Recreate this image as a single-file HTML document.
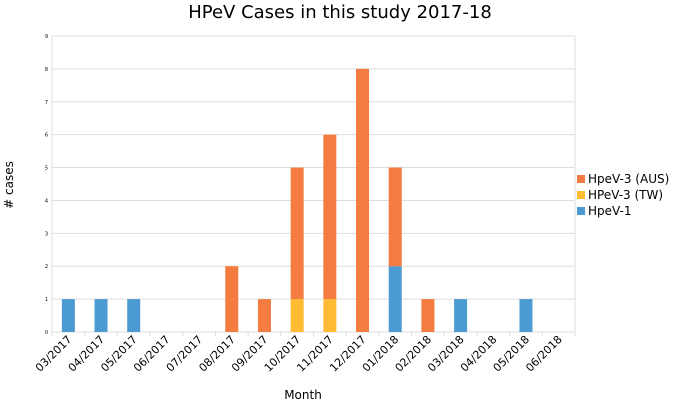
<!DOCTYPE html>
<html><head><meta charset="utf-8"><style>
body{margin:0;background:#fff;}
svg text{font-family:"DejaVu Sans","Liberation Sans",sans-serif;fill:#000;}
</style></head><body>
<svg width="685" height="401" viewBox="0 0 685 401">
<text x="340" y="18" text-anchor="middle" font-size="18">HPeV Cases in this study 2017-18</text>
<g id="grid"></g>
<g id="bars"></g>
<g id="xlabels"></g>
<text transform="translate(13,185) rotate(-90)" text-anchor="middle" font-size="12"># cases</text>
<text x="303" y="399" text-anchor="middle" font-size="12">Month</text>
<g>
<rect x="577" y="175" width="8" height="8" fill="#f47c40"/>
<text x="588" y="183" font-size="12">HpeV-3 (AUS)</text>
<rect x="577" y="191" width="8" height="8" fill="#ffbb33"/>
<text x="588" y="199" font-size="12">HPeV-3 (TW)</text>
<rect x="577" y="207" width="8" height="8" fill="#4c9ad2"/>
<text x="588" y="215" font-size="12">HpeV-1</text>
</g>
</svg>
<script>
const categories=["03/2017","04/2017","05/2017","06/2017","07/2017","08/2017","09/2017","10/2017","11/2017","12/2017","01/2018","02/2018","03/2018","04/2018","05/2018","06/2018"];
const hpev1=[1,1,1,0,0,0,0,0,0,0,2,0,1,0,1,0];
const hpev3tw=[0,0,0,0,0,0,0,1,1,0,0,0,0,0,0,0];
const hpev3aus=[0,0,0,0,0,2,1,4,5,8,3,1,0,0,0,0];
const yTicks=[0,1,2,3,4,5,6,7,8,9];
const NS="http://www.w3.org/2000/svg";
const X0=52,X1=575,Y0=332,Y1=36,YMAX=9;
const bw=(X1-X0)/categories.length;
const y=v=>Y0-(Y0-Y1)*v/YMAX;
const xc=i=>X0+bw*(i+0.5);
const grid=document.getElementById('grid'),bars=document.getElementById('bars'),xl=document.getElementById('xlabels');
function mk(t,a){const e=document.createElementNS(NS,t);for(const k in a)e.setAttribute(k,a[k]);return e;}
yTicks.forEach(v=>{
 const l=mk('line',{x1:X0,x2:X1,y1:y(v),y2:y(v),stroke:'#dddddd','stroke-width':1});
 
 
 grid.appendChild(l);
 const t=mk('text',{x:X0-4,y:y(v)+2,'text-anchor':'end','font-size':5});
 
 
 t.textContent=v;grid.appendChild(t);
});
const vl=mk('line',{x1:X0,x2:X0,y1:Y1,y2:Y0,stroke:'#dddddd'});


grid.appendChild(vl);
const rl=mk('line',{x1:X1,x2:X1,y1:Y1,y2:Y0,stroke:'#dddddd'});


grid.appendChild(rl);
for(let i=0;i<=categories.length;i++){
 const tk=mk('line',{x1:X0+bw*i,x2:X0+bw*i,y1:Y0,y2:Y0+4,stroke:'#dddddd'});
 
 
 grid.appendChild(tk);
}
const series=[[hpev1,'#4c9ad2','hpev1'],[hpev3tw,'#ffbb33','hpev3-tw'],[hpev3aus,'#f47c40','hpev3-aus']];
categories.forEach((c,i)=>{
 let base=0;
 series.forEach(([arr,col,nm])=>{
  const v=arr[i];
  if(v>0){
   const r=mk('rect',{x:xc(i)-6.5,y:y(base+v),width:13,height:y(base)-y(base+v),fill:col});
   
   
   bars.appendChild(r);
  }
  base+=v;
 });
 const t=mk('text',{transform:`translate(${xc(i)+4},${Y0+8}) rotate(-45)`,'text-anchor':'end','font-size':11});
 
 
 t.textContent=c;xl.appendChild(t);
});
</script>
</body></html>
